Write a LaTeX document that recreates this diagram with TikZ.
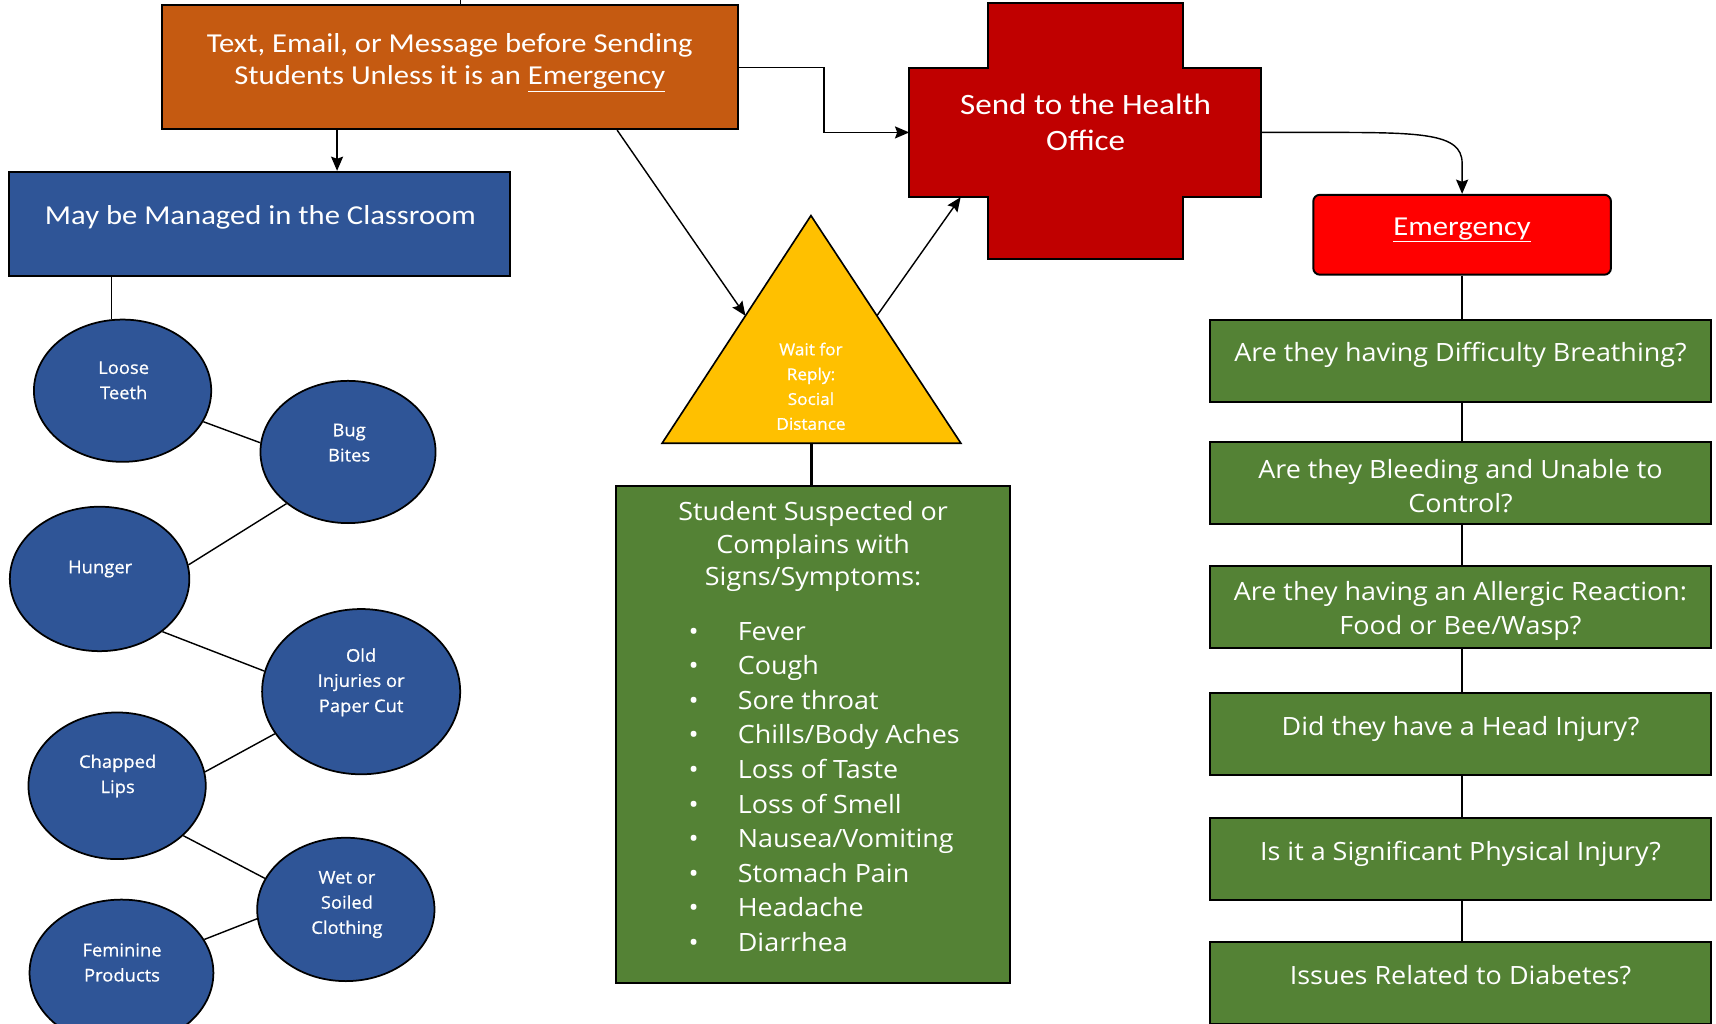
\documentclass[tikz,border=0pt]{standalone}
\usepackage{fontspec}
\usetikzlibrary{arrows.meta,shapes.geometric,calc}
\newfontfamily\calfont[FakeStretch=1.12]{Carlito}
\newfontfamily\opfont[FakeStretch=1.07]{Open Sans}
\newfontfamily\opbfont[FakeStretch=1.05,FakeBold=0.8]{Open Sans}
\definecolor{corange}{HTML}{C55A11}
\definecolor{cblue}{HTML}{2F5597}
\definecolor{cred}{HTML}{C00000}
\definecolor{cbright}{HTML}{FF0000}
\definecolor{cyellow}{HTML}{FFC000}
\definecolor{cgreen}{HTML}{548235}
\newcommand\bl{\makebox[45pt][l]{•}}
\begin{document}
\begin{tikzpicture}[x=1pt,y=-1pt,
  box/.style={draw=black, line width=1.8pt, inner sep=0pt},
  wtxt/.style={text=white, align=center, inner sep=0pt},
  conn/.style={draw=black, line width=1.3pt},
  arr/.style={conn, -{Stealth[length=13pt,width=11pt,inset=2pt]}},
  bub/.style={ellipse, draw=black, line width=1.6pt, fill=cblue, inner sep=0pt},
  btxt/.style={wtxt, font=\opbfont\fontsize{16}{23}\selectfont},
  qbox/.style={box, fill=cgreen, minimum width=457pt, minimum height=75pt},
  qtxt/.style={wtxt, font=\opfont\fontsize{23}{31}\selectfont},
  caltxt/.style={wtxt, font=\calfont\fontsize{25}{30}\selectfont}]
\useasboundingbox (0,0) rectangle (1568,935);
\clip (0,0) rectangle (1568,935);
\fill[white] (0,0) rectangle (1568,935);

% top orange box
\node[box, fill=corange, minimum width=526pt, minimum height=113pt] (orange) at (411,61.5) {};
\node[caltxt] (orange-t) at (411,57) {Text, Email, or Message before Sending\\Students Unless it is an \underline{Emergency}};
\coordinate (topend) at (421,0);
\draw[conn] (topend |- orange.north) -- (topend);

% blue box
\node[box, fill=cblue, minimum width=458pt, minimum height=95pt] (blue) at (237,204.5) {};
\node[caltxt] (blue-t) at (238,199) {May be Managed in the Classroom};

% health office cross
\draw[box, fill=cred] (903,3) -- (1081,3) -- (1081,62) -- (1152,62) -- (1152,180) -- (1081,180)
  -- (1081,237) -- (903,237) -- (903,180) -- (831,180) -- (831,62) -- (903,62) -- cycle;
\node[inner sep=0pt, minimum width=321pt, minimum height=118pt] (cross) at (991.5,121) {};
\node[wtxt, font=\calfont\fontsize{27}{33}\selectfont] (cross-t) at (992,112) {Send to the Health\\Office};

% triangle
\coordinate (ta) at (741,197);
\coordinate (tl) at (605,405);
\coordinate (tr) at (878,405);
\draw[box, fill=cyellow, line width=1.5pt] (ta) -- (tr) -- (tl) -- cycle;
\node[wtxt, font=\opbfont\fontsize{15}{22.7}\selectfont] (wait) at (741,353) {Wait for\\Reply:\\Social\\Distance};

% symptoms box
\node[box, fill=cgreen, minimum width=360pt, minimum height=454pt] (sym) at (743,671) {};
\node[wtxt, font=\opfont\fontsize{23}{29.5}\selectfont] (sym-t) at (743,499.5) {Student Suspected or\\Complains with\\Signs/Symptoms:};
\node[wtxt, align=left, anchor=west, font=\opfont\fontsize{23}{31.6}\selectfont] (sym-l) at (629,719)
  {\bl Fever\\\bl Cough\\\bl Sore throat\\\bl Chills/Body Aches\\\bl Loss of Taste\\\bl Loss of Smell\\\bl Nausea/Vomiting\\\bl Stomach Pain\\\bl Headache\\\bl Diarrhea};

% emergency
\node[box, fill=cbright, rounded corners=6pt, minimum width=272pt, minimum height=73pt] (emg) at (1336,214.5) {};
\node[caltxt] (emg-t) at (1336,210) {\underline{Emergency}};

% question boxes
\node[qbox] (q1) at (1334.5,329.5) {};
\node[qtxt] (q1-t) at (1334.5,324) {Are they having Difficulty Breathing?};
\node[qbox] (q2) at (1334.5,441.5) {};
\node[qtxt] (q2-t) at (1334.5,444.5) {Are they Bleeding and Unable to\\Control?};
\node[qbox] (q3) at (1334.5,554.5) {};
\node[qtxt] (q3-t) at (1334.5,558.5) {Are they having an Allergic Reaction:\\Food or Bee/Wasp?};
\node[qbox] (q4) at (1334.5,671) {};
\node[qtxt] (q4-t) at (1334.5,666) {Did they have a Head Injury?};
\node[qbox] (q5) at (1334.5,784.5) {};
\node[qtxt] (q5-t) at (1334.5,780) {Is it a Significant Physical Injury?};
\node[qbox] (q6) at (1334.5,898) {};
\node[qtxt] (q6-t) at (1334.5,891) {Issues Related to Diabetes?};

% bubbles
\node[bub, minimum width=162pt, minimum height=130pt] (lt) at (112,357) {};
\node[btxt] (lt-t) at (113,347.5) {Loose\\Teeth};
\node[bub, minimum width=160pt, minimum height=130pt] (bb) at (318,413) {};
\node[btxt] (bb-t) at (319,404.5) {Bug\\Bites};
\node[bub, minimum width=164pt, minimum height=132pt] (hu) at (91,529) {};
\node[btxt] (hu-t) at (91.5,520) {Hunger};
\node[bub, minimum width=181pt, minimum height=151pt] (oi) at (330,632) {};
\node[btxt] (oi-t) at (330,623.5) {Old\\Injuries or\\Paper Cut};
\node[bub, minimum width=162pt, minimum height=134pt] (cl) at (107,718) {};
\node[btxt] (cl-t) at (107.5,709) {Chapped\\Lips};
\node[bub, minimum width=162pt, minimum height=131pt] (ws) at (316,831) {};
\node[btxt] (ws-t) at (317,826.5) {Wet or\\Soiled\\Clothing};
\node[bub, minimum width=168pt, minimum height=134pt] (fp) at (111,889) {};
\node[btxt] (fp-t) at (111.5,879.5) {Feminine\\Products};

% connectors
\draw[arr] ([xshift=-103pt]orange.south) -- ([xshift=-103pt]orange.south |- blue.north);
\draw[arr] (orange.east) -- ++(78,0) |- (cross.west);
\draw[arr] ([xshift=-111pt]orange.south east) -- ($(ta)!0.44!(tl)$);
\draw[arr] ($(ta)!0.44!(tr)$) -- ([xshift=47pt]cross.south west);
\coordinate (tb) at ($(tl)!0.5!(tr)$);
\draw[conn, line width=3.5pt] (tb) -- (tb |- sym.north);
\draw[arr] (cross.east) -- ++(55,0) .. controls +(90,0) and +(0,-28) .. ($(emg.north)+(0,-28)$) -- (emg.north);
\draw[conn] (emg.south) -- (emg.south |- q1.north);
\draw[conn] (q1.south -| emg) -- (q2.north -| emg);
\draw[conn] (q2.south -| emg) -- (q3.north -| emg);
\draw[conn] (q3.south -| emg) -- (q4.north -| emg);
\draw[conn] (q4.south -| emg) -- (q5.north -| emg);
\draw[conn] (q5.south -| emg) -- (q6.north -| emg);

\coordinate (bl) at ([xshift=-135pt]blue.south);
\draw[conn] (bl) -- (bl |- lt.north);
\draw[conn] (lt.-21) -- (bb.174);
\draw[conn] (bb.220) -- (hu.9);
\draw[conn] (hu.-40) -- (oi.168);
\draw[conn] (oi.206) -- (cl.9);
\draw[conn] (cl.-37) -- (ws.159);
\draw[conn] (ws.186) -- (fp.22);
\end{tikzpicture}
\end{document}
